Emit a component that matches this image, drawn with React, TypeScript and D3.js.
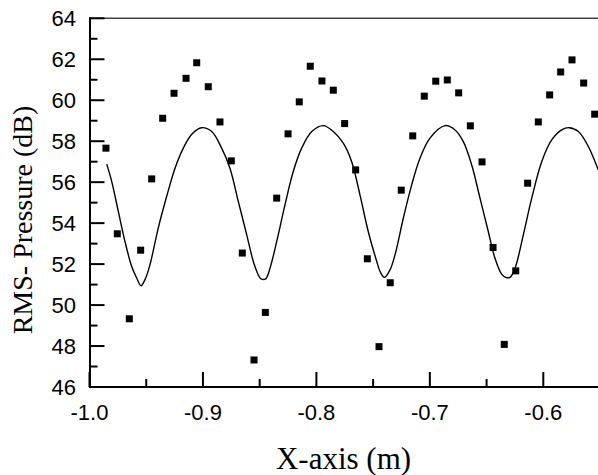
import React from "react";
import * as d3 from "d3";

const W = 598;
const H = 475;

// Measured data points (square markers)
const markerX = [
  -0.9855, -0.9755, -0.9649, -0.9549, -0.9452, -0.9355, -0.9255, -0.9149, -0.9055,
  -0.8953, -0.885, -0.875, -0.8653, -0.855, -0.845, -0.835, -0.825, -0.8151, -0.8054,
  -0.7951, -0.7851, -0.7751, -0.7654, -0.7551, -0.7448, -0.7349, -0.7252, -0.7151,
  -0.7049, -0.6948, -0.6846, -0.6746, -0.6643, -0.654, -0.6443, -0.6344, -0.6243,
  -0.6138, -0.6044, -0.5944, -0.5847, -0.5747, -0.5644, -0.5547,
];
const markerY = [
  57.66, 53.48, 49.33, 52.68, 56.16, 59.12, 60.34, 61.07, 61.83,
  60.66, 58.94, 57.04, 52.54, 47.32, 49.64, 55.22, 58.36, 59.92, 61.66,
  60.94, 60.49, 58.86, 56.6, 52.26, 47.97, 51.09, 55.61, 58.26,
  60.2, 60.93, 60.99, 60.36, 58.75, 56.99, 52.81, 48.08, 51.67,
  55.95, 58.94, 60.26, 61.38, 61.97, 60.84, 59.32,
];

// Computed curve (solid line)
const curveX = [
  -0.9848, -0.9804, -0.9746, -0.9687, -0.9628, -0.9584, -0.9546, -0.9505, -0.9467,
  -0.9394, -0.932, -0.9246, -0.9173, -0.9099, -0.9011, -0.8923, -0.8835, -0.8762,
  -0.8688, -0.8614, -0.8556, -0.8506, -0.8488, -0.8447, -0.8409, -0.835, -0.8277,
  -0.8204, -0.813, -0.8041, -0.7939, -0.7851, -0.7763, -0.7689, -0.7616, -0.7543,
  -0.7468, -0.7439, -0.7401, -0.7351, -0.7307, -0.7234, -0.716, -0.7087, -0.6999,
  -0.6866, -0.6778, -0.6705, -0.6631, -0.6558, -0.6485, -0.6426, -0.6367, -0.6331,
  -0.6293, -0.6249, -0.6176, -0.6102, -0.6014, -0.5926, -0.5838, -0.5773, -0.5691,
  -0.5603, -0.5544, -0.5515,
];
const curveY = [
  56.88, 56.03, 54.57, 53.1, 51.88, 51.32, 50.94, 51.32, 51.97,
  53.76, 55.3, 56.68, 57.66, 58.34, 58.66, 58.47, 57.66, 56.68,
  55.05, 53.43, 52.13, 51.4, 51.28, 51.28, 51.8, 53.1, 54.89,
  56.52, 57.66, 58.47, 58.76, 58.47, 57.9, 57.0, 55.38, 53.59,
  52.13, 51.64, 51.35, 51.72, 52.45, 54.24, 55.87, 57.17, 58.15,
  58.76, 58.55, 57.98, 56.84, 55.22, 53.59, 52.29, 51.51, 51.35,
  51.35, 51.8, 53.43, 55.22, 57.0, 58.06, 58.55, 58.66, 58.47,
  57.74, 57.0, 56.6,
];

const xMajorTicks = [-1.0, -0.9, -0.8, -0.7, -0.6];
const xMinorTicks = [-0.95, -0.85, -0.75, -0.65, -0.55];
const yMajorTicks = [46, 48, 50, 52, 54, 56, 58, 60, 62, 64];
const yMinorTicks = [47, 49, 51, 53, 55, 57, 59, 61, 63];

const xTitle = "X-axis (m)";
const yTitle = "RMS- Pressure (dB)";

export default function App() {
  const left = 89.5;
  const top = 18.3;
  const bottom = 387;
  const x = d3.scaleLinear().domain([-1.0, -0.55]).range([left, left + 0.45 * 1134.5]);
  const y = d3.scaleLinear().domain([46, 64]).range([bottom, top]);

  const pts = curveX.map((cx, i) => [cx, curveY[i]] as [number, number]);
  const line = d3
    .line<[number, number]>()
    .x((d) => x(d[0]))
    .y((d) => y(d[1]))
    .curve(d3.curveCatmullRom.alpha(0.5));

  const tickFont = "'Liberation Sans', Arial, Helvetica, sans-serif";
  const titleFont = "'Liberation Serif', 'Times New Roman', Times, serif";
  const sq = 7;

  return (
    <svg
      width={W}
      height={H}
      viewBox={`0 0 ${W} ${H}`}
      style={{ position: "absolute", left: 0, top: 0, background: "#fff" }}
    >
      <defs>
        <clipPath id="plotClip">
          <rect x={left} y={0} width={W - left} height={bottom} />
        </clipPath>
      </defs>
      <rect x={0} y={0} width={W} height={H} fill="#fff" />

      {/* curve */}
      <path d={line(pts) || ""} fill="none" stroke="#000" strokeWidth={1.4} clipPath="url(#plotClip)" />

      {/* markers */}
      <g fill="#000">
        {markerX.map((mx, i) => (
          <rect key={i} x={x(mx) - sq / 2} y={y(markerY[i]) - sq / 2} width={sq} height={sq} />
        ))}
      </g>

      {/* top frame line */}
      <line x1={left} x2={W} y1={top} y2={top} stroke="#444" strokeWidth={1.5} />

      {/* axes */}
      <line x1={left + 0.5} x2={left + 0.5} y1={top - 0.7} y2={bottom + 1} stroke="#000" strokeWidth={2} />
      <line x1={left} x2={W} y1={bottom} y2={bottom} stroke="#000" strokeWidth={2} />

      {/* y ticks */}
      {yMajorTicks.map((t) => (
        <line key={"ym" + t} x1={left} x2={left + 15} y1={y(t)} y2={y(t)} stroke="#000" strokeWidth={2} />
      ))}
      {yMinorTicks.map((t) => (
        <line key={"yn" + t} x1={left} x2={left + 8} y1={y(t)} y2={y(t)} stroke="#000" strokeWidth={2} />
      ))}
      {yMajorTicks.map((t) => (
        <text
          key={"yl" + t}
          x={76}
          y={y(t) + 8}
          textAnchor="end"
          fontFamily={tickFont}
          fontSize={22}
          fill="#000"
        >
          {t}
        </text>
      ))}

      {/* x ticks */}
      {xMajorTicks.map((t) => (
        <line key={"xm" + t} x1={x(t)} x2={x(t)} y1={bottom} y2={bottom - 15} stroke="#000" strokeWidth={2} />
      ))}
      {xMinorTicks.map((t) => (
        <line key={"xn" + t} x1={x(t)} x2={x(t)} y1={bottom} y2={bottom - 8} stroke="#000" strokeWidth={2} />
      ))}
      {xMajorTicks.map((t) => (
        <text
          key={"xl" + t}
          x={x(t)}
          y={419.5}
          textAnchor="middle"
          fontFamily={tickFont}
          fontSize={22}
          fill="#000"
        >
          {d3.format(".1f")(t).replace("−", "-")}
        </text>
      ))}

      {/* titles */}
      <text x={343.5} y={468.5} textAnchor="middle" fontFamily={titleFont} fontSize={31} fill="#000">
        {xTitle}
      </text>
      <text
        transform={`translate(32,220) rotate(-90)`}
        textAnchor="middle"
        fontFamily={titleFont}
        fontSize={28}
        fill="#000"
      >
        {yTitle}
      </text>
    </svg>
  );
}
